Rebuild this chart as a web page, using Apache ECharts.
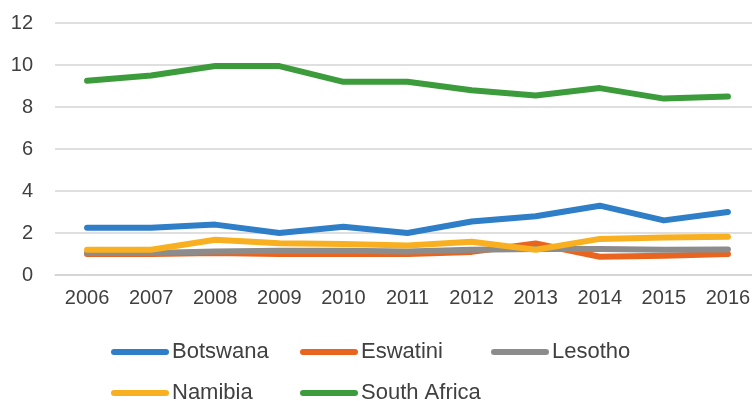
<!DOCTYPE html>
<html>
<head>
<meta charset="utf-8">
<script src="https://cdn.jsdelivr.net/npm/echarts@6/dist/echarts.min.js"></script>
<style>
  html, body { margin: 0; padding: 0; background: #ffffff; }
  #chart { width: 752px; height: 401px; }
</style>
</head>
<body>
<div id="chart"></div>
<script>
// Years on the category axis
var years = ['2006', '2007', '2008', '2009', '2010', '2011', '2012', '2013', '2014', '2015', '2016'];

// Values per country
var botswana    = [2.25, 2.25, 2.4, 2.0, 2.3, 2.0, 2.55, 2.8, 3.3, 2.6, 3.0];
var eswatini    = [1.0, 1.0, 1.05, 1.0, 1.0, 1.0, 1.1, 1.5, 0.87, 0.92, 1.0];
var lesotho     = [1.05, 1.05, 1.12, 1.15, 1.15, 1.12, 1.2, 1.24, 1.24, 1.2, 1.22];
var namibia     = [1.2, 1.2, 1.68, 1.51, 1.48, 1.4, 1.58, 1.2, 1.72, 1.78, 1.82];
var southAfrica = [9.25, 9.5, 9.95, 9.95, 9.2, 9.2, 8.8, 8.55, 8.9, 8.4, 8.5];

// Y axis range
var yMin = 0, yMax = 12, yStep = 2;

var seriesNames  = ['Botswana', 'Eswatini', 'Lesotho', 'Namibia', 'South Africa'];
var seriesData   = [botswana, eswatini, lesotho, namibia, southAfrica];
var seriesColors = ['#2f7ec8', '#e8641f', '#8c8c8c', '#f8b020', '#3c9c3c'];

var FONT = '"Liberation Sans", Arial, sans-serif';
var TEXT = '#404040';

var legendSpots = [
  { left: 111, top: 341 },
  { left: 300, top: 341 },
  { left: 491, top: 341 },
  { left: 111, top: 382 },
  { left: 300, top: 382 }
];

var chart = echarts.init(document.getElementById('chart'), null, { renderer: 'canvas' });

chart.setOption({
  backgroundColor: '#ffffff',
  animation: false,
  textStyle: { fontFamily: FONT },
  grid: {
    left: 55, right: -8, top: 23, bottom: 126,
    outerBoundsMode: 'none', containLabel: false
  },
  xAxis: {
    type: 'category',
    data: years,
    boundaryGap: true,
    axisLine: { show: true, lineStyle: { color: '#d4d4d4', width: 1.5 } },
    axisTick: { show: false },
    axisLabel: { color: TEXT, fontSize: 20, fontFamily: FONT, margin: 13 }
  },
  yAxis: {
    type: 'value',
    min: yMin, max: yMax, interval: yStep,
    axisLine: { show: false },
    axisTick: { show: false },
    axisLabel: { color: TEXT, fontSize: 20, fontFamily: FONT, margin: 22 },
    splitLine: { lineStyle: { color: '#d4d4d4', width: 1.5 } }
  },
  legend: seriesNames.map(function (name, i) {
    return {
      data: [name],
      left: legendSpots[i].left,
      top: legendSpots[i].top,
      orient: 'horizontal',
      icon: 'path://M3,0 H55 A3,3 0 0 1 55,6 H3 A3,3 0 0 1 3,0 Z',
      itemWidth: 58,
      itemHeight: 6,
      itemGap: 0,
      padding: 0,
      selectedMode: false,
      textStyle: { color: TEXT, fontSize: 22, fontFamily: FONT, padding: [0, 0, 0, -2] }
    };
  }),
  series: seriesNames.map(function (name, i) {
    return {
      name: name,
      type: 'line',
      data: seriesData[i],
      showSymbol: false,
      symbol: 'none',
      color: seriesColors[i],
      lineStyle: { width: 6, color: seriesColors[i], cap: 'round', join: 'round' },
      emphasis: { disabled: true }
    };
  })
});
</script>
</body>
</html>
